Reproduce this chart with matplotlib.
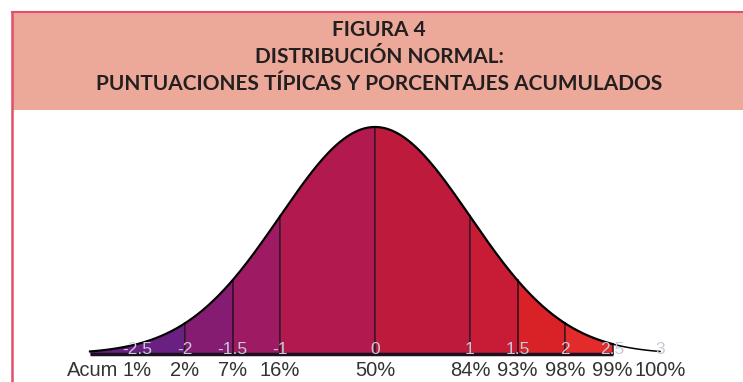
import numpy as np
import matplotlib.pyplot as plt
from matplotlib.patches import Rectangle

# data
z_ticks = [-2.5, -2, -1.5, -1, 0, 1, 1.5, 2, 2.5, 3]
z_labels = ["-2.5", "-2", "-1.5", "-1", "0", "1", "1.5", "2", "2.5", "3"]
acum_labels = ["1%", "2%", "7%", "16%", "50%", "84%", "93%", "98%", "99%", "100%"]
seg_edges = [-3, -2, -1.5, -1, 0, 1, 1.5, 2, 2.5]
seg_colors = ["#6a2080", "#861b72", "#9e1a63", "#b2194f",
              "#bd1a3c", "#c81c36", "#d92227", "#e32b2b"]
title_lines = "FIGURA 4\nDISTRIBUCIÓN NORMAL:\nPUNTUACIONES TÍPICAS Y PORCENTAJES ACUMULADOS"


def pdf(x):
    return np.exp(-0.5 * x ** 2) / np.sqrt(2 * np.pi)


W, H = 743, 382
fig = plt.figure(figsize=(W / 100, H / 100), dpi=100)
fig.patch.set_facecolor("white")

# header box and red frame
fig.patches.append(Rectangle((12 / W, (H - 110) / H), 1, 98 / H, transform=fig.transFigure,
                             facecolor="#eca898", edgecolor="none"))
fig.add_artist(plt.Line2D([12 / W, 1], [(H - 12) / H] * 2, color="#e0506a", lw=1.5))
fig.add_artist(plt.Line2D([12 / W] * 2, [0, (H - 12) / H], color="#e0506a", lw=1.8))
fig.text(379 / W, (H - 57) / H, title_lines, ha="center", va="center", fontsize=15,
         fontweight="bold", family="Lato", color="#231f20", linespacing=1.42)

# chart axes: x=0 at 375px, 1 sigma = 95px; baseline 354px from top, peak height 227px
top_px = 115
ax = fig.add_axes([0, 0, 1, (H - top_px) / H])
ax.set_xlim((0 - 375) / 95, (W - 375) / 95)
k = pdf(0) / 227
ax.set_ylim(-28 * k, (H - top_px - 28) * k)
ax.axis("off")

for i in range(len(seg_edges) - 1):
    xs = np.linspace(seg_edges[i], seg_edges[i + 1], 80)
    ax.fill_between(xs, 0, pdf(xs), color=seg_colors[i], lw=0)

for x in seg_edges[1:]:
    ax.plot([x, x], [0, pdf(x)], color="#2a0f1e", lw=1.1)

xs = np.linspace(-3, 2.5, 400)
ax.plot(xs, pdf(xs), color="black", lw=1.6)
xs = np.linspace(2.5, 3, 60)
ax.plot(xs, pdf(xs), color="black", lw=1.1)
ax.plot([-3, 2.5], [0, 0], color="#1a1020", lw=2.5, solid_capstyle="butt")

for x, lab in zip(z_ticks, z_labels):
    ax.text(x, 4 * k, lab, ha="center", va="center", fontsize=12.5,
            family="Liberation Sans", color="#c4cada")
for x, lab in zip(z_ticks, acum_labels):
    ax.text(x, -17 * k, lab, ha="center", va="center", fontsize=14.5,
            family="Liberation Sans", color="#333333")
ax.text(-2.97, -17 * k, "Acum", ha="center", va="center", fontsize=14.5,
        family="Liberation Sans", color="#333333")

fig.savefig("out.png", dpi=100)
